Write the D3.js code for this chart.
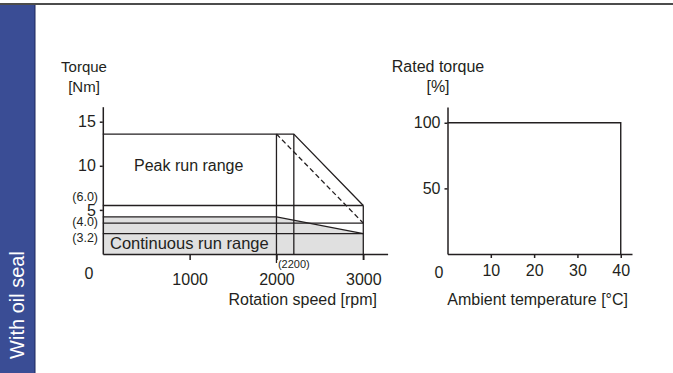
<!DOCTYPE html>
<html>
<head>
<meta charset="utf-8">
<script src="https://cdn.jsdelivr.net/npm/d3@7"></script>
<style>
  body { margin: 0; background: #fff; }
  svg { display: block; font-family: "Liberation Sans", Arial, sans-serif; }
</style>
</head>
<body>
<div id="chart"></div>
<script>
// Speed-torque chart values
var speedTicks = [1000, 2000, 3000];
var torqueTicks = [5, 10, 15];
var peakCurve = [[0, 13.6], [2200, 13.6], [3000, 5.5]];
var peakDashed = [[2000, 13.6], [3000, 3.5]];
var contCurve = [[0, 4.2], [2000, 4.2], [3000, 2.3]];
var refLevels = [5.5, 3.5, 2.3];
var refLabels = ["(6.0)", "(4.0)", "(3.2)"];
var cornerSpeeds = [2000, 2200, 3000];

// Ambient temperature chart values
var tempTicks = [10, 20, 30, 40];
var ratedTicks = [50, 100];
var ratedCurve = [[0, 100], [40, 100], [40, 0]];

var W = 673, H = 373;
var ink = "#231f20";

var svg = d3.select("#chart").append("svg")
    .attr("width", W)
    .attr("height", H);

// Frame: top rule and blue side tab
svg.append("rect").attr("x", 0).attr("y", 5).attr("width", 35).attr("height", H - 5)
    .attr("fill", "#3a4d95");
svg.append("line").attr("x1", 35).attr("x2", 35).attr("y1", 5).attr("y2", H)
    .attr("stroke", "#1d275a").attr("stroke-width", 1);
svg.append("line").attr("x1", 0).attr("x2", W).attr("y1", 4).attr("y2", 4)
    .attr("stroke", "#111").attr("stroke-width", 1.6);
svg.append("text")
    .attr("transform", "translate(24,305) rotate(-90)")
    .attr("text-anchor", "middle")
    .attr("fill", "#fff")
    .style("font-size", "20px")
    .text("With oil seal");

// ---------- Left chart ----------
var x1 = d3.scaleLinear().domain([0, 3280]).range([102.8, 387.6]);
var y1 = d3.scaleLinear().domain([0, 16.7]).range([254, 106.7]);

var left = svg.append("g");
var line1 = d3.line().x(function(d) { return x1(d[0]); }).y(function(d) { return y1(d[1]); });

// continuous run range fill
left.append("path")
    .datum([[0, 0]].concat(contCurve).concat([[3000, 0]]))
    .attr("d", line1)
    .attr("fill", "#e0e0e0")
    .attr("stroke", "none");

// reference levels across to 3000
left.selectAll(".ref")
    .data(refLevels)
  .enter().append("line")
    .attr("x1", x1(0)).attr("x2", x1(3000))
    .attr("y1", function(d) { return y1(d); })
    .attr("y2", function(d) { return y1(d); })
    .attr("stroke", ink).attr("stroke-width", 1.3);

// corner speed verticals
left.selectAll(".corner")
    .data(cornerSpeeds)
  .enter().append("line")
    .attr("x1", function(d) { return x1(d); })
    .attr("x2", function(d) { return x1(d); })
    .attr("y1", function(d) { return d == 3000 ? y1(peakCurve[2][1]) : y1(peakCurve[0][1]); })
    .attr("y2", function(d) { return d == 2200 ? y1(0) : y1(0) + (d == 2000 ? 9 : 6); })
    .attr("stroke", ink).attr("stroke-width", 1.3);

left.append("path").datum(peakCurve).attr("d", line1)
    .attr("fill", "none").attr("stroke", ink).attr("stroke-width", 1.3);
left.append("path").datum(peakDashed).attr("d", line1)
    .attr("fill", "none").attr("stroke", ink).attr("stroke-width", 1.3)
    .attr("stroke-dasharray", "5,3");
left.append("path").datum(contCurve).attr("d", line1)
    .attr("fill", "none").attr("stroke", ink).attr("stroke-width", 1.3);

// axes
var yAxis1 = left.append("g")
    .attr("transform", "translate(" + x1(0) + ",0)")
    .call(d3.axisLeft(y1).tickValues(torqueTicks).tickSize(3).tickPadding(4).tickSizeOuter(0));
var xAxis1 = left.append("g")
    .attr("transform", "translate(0," + y1(0) + ")")
    .call(d3.axisBottom(x1).tickValues(speedTicks).tickFormat(d3.format("d"))
        .tickSize(6).tickPadding(14).tickSizeOuter(0));

[yAxis1, xAxis1].forEach(function(a) {
    a.attr("font-family", null).attr("font-size", null);
    a.selectAll("text").style("font-size", "16px").attr("fill", ink);
    a.selectAll("line, path").attr("stroke", ink).attr("stroke-width", 1.5);
});

// reference labels
var labelDy = [-9, -2, 4];
left.selectAll(".reflabel")
    .data(refLevels)
  .enter().append("text")
    .attr("x", 98)
    .attr("y", function(d, i) { return y1(d) + labelDy[i]; })
    .attr("dy", "0.35em")
    .attr("text-anchor", "end")
    .attr("fill", ink)
    .style("font-size", "12.5px")
    .text(function(d, i) { return refLabels[i]; });

left.append("text").attr("x", x1(2200)).attr("y", y1(0) + 14)
    .attr("text-anchor", "middle").attr("fill", ink)
    .style("font-size", "11px").text("(2200)");

left.append("text").attr("x", 89).attr("y", 278.5)
    .attr("text-anchor", "middle").attr("fill", ink)
    .style("font-size", "16px").text("0");

left.append("text").attr("x", 134).attr("y", y1(10)).attr("dy", "0.35em")
    .attr("fill", ink).style("font-size", "16px").text("Peak run range");
left.append("text").attr("x", 110).attr("y", 243).attr("dy", "0.35em")
    .attr("fill", ink).style("font-size", "16.5px").text("Continuous run range");

left.append("text").attr("x", 84).attr("y", 72).attr("text-anchor", "middle")
    .attr("fill", ink).style("font-size", "15px").text("Torque");
left.append("text").attr("x", 84).attr("y", 92).attr("text-anchor", "middle")
    .attr("fill", ink).style("font-size", "15px").text("[Nm]");
left.append("text").attr("x", 377).attr("y", 305).attr("text-anchor", "end")
    .attr("fill", ink).style("font-size", "16px").text("Rotation speed [rpm]");

// ---------- Right chart ----------
var x2 = d3.scaleLinear().domain([0, 42.6]).range([447.5, 632]);
var y2 = d3.scaleLinear().domain([0, 112]).range([254, 107]);

var right = svg.append("g");

right.append("path").datum(ratedCurve)
    .attr("d", d3.line().x(function(d) { return x2(d[0]); }).y(function(d) { return y2(d[1]); }))
    .attr("fill", "none").attr("stroke", ink).attr("stroke-width", 1.4);

var yAxis2 = right.append("g")
    .attr("transform", "translate(" + x2(0) + ",0)")
    .call(d3.axisLeft(y2).tickValues(ratedTicks).tickSize(3).tickPadding(4).tickSizeOuter(0));
var xAxis2 = right.append("g")
    .attr("transform", "translate(0," + y2(0) + ")")
    .call(d3.axisBottom(x2).tickValues(tempTicks).tickSize(4).tickPadding(7).tickSizeOuter(0));

[yAxis2, xAxis2].forEach(function(a) {
    a.attr("font-family", null).attr("font-size", null);
    a.selectAll("text").style("font-size", "16px").attr("fill", ink);
    a.selectAll("line, path").attr("stroke", ink).attr("stroke-width", 1.5);
});

right.append("text").attr("x", 439).attr("y", 278).attr("text-anchor", "middle")
    .attr("fill", ink).style("font-size", "16px").text("0");

right.append("text").attr("x", 438).attr("y", 72).attr("text-anchor", "middle")
    .attr("fill", ink).style("font-size", "16px").text("Rated torque");
right.append("text").attr("x", 438).attr("y", 92).attr("text-anchor", "middle")
    .attr("fill", ink).style("font-size", "16px").text("[%]");
right.append("text").attr("x", 628).attr("y", 305).attr("text-anchor", "end")
    .attr("fill", ink).style("font-size", "16px").text("Ambient temperature [\u00b0C]");
</script>
</body>
</html>
